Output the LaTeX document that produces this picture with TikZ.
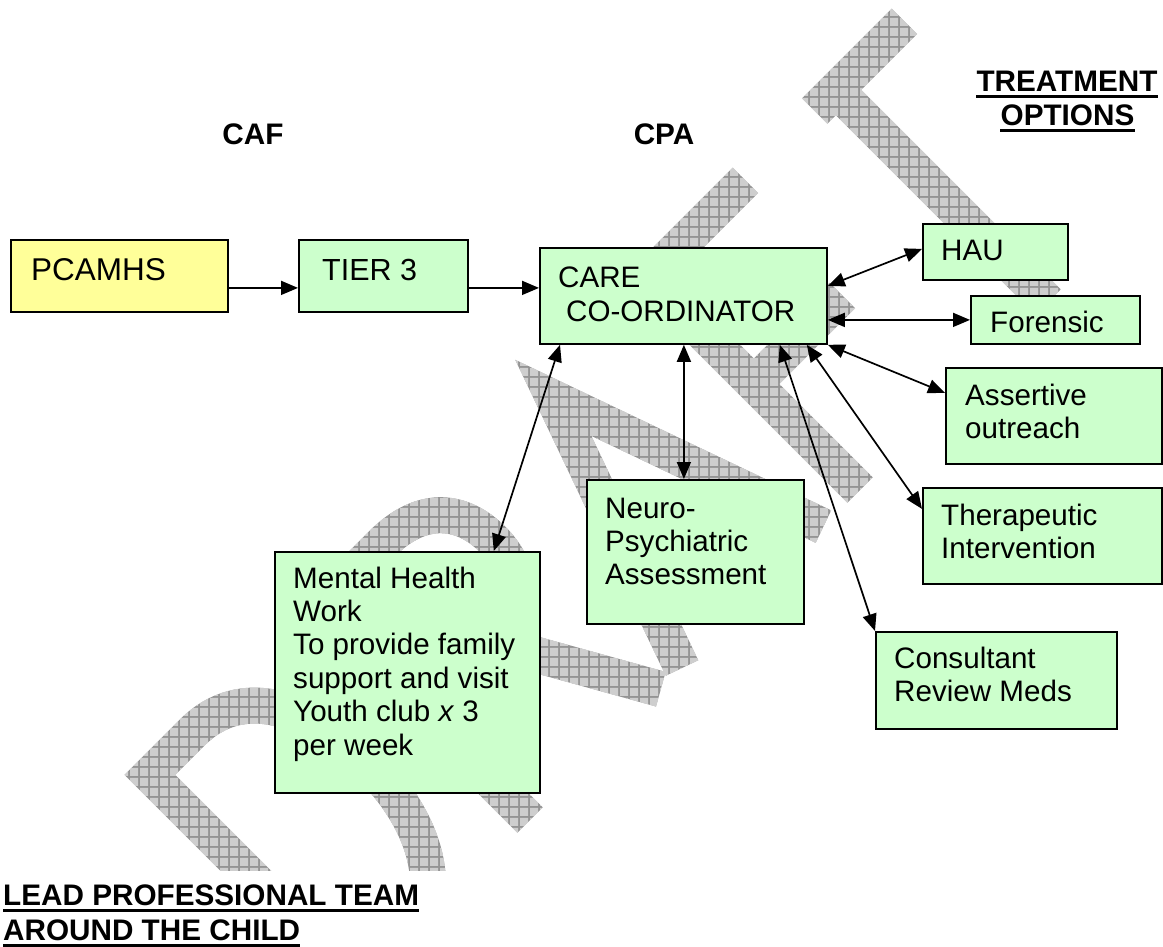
\documentclass[tikz,border=0pt]{standalone}
\usepackage{fontspec}
\setmainfont{Liberation Sans}
\usetikzlibrary{arrows.meta,patterns}
\definecolor{boxgreen}{HTML}{CCFFCC}
\definecolor{boxyellow}{HTML}{FFFF99}
\definecolor{wmdark}{RGB}{148,148,148}
\definecolor{wmlight}{RGB}{206,206,206}
\pgfdeclarepatternformonly{wmcells}{\pgfpointorigin}{\pgfqpoint{10pt}{10pt}}{\pgfqpoint{10pt}{10pt}}{\pgfpathrectangle{\pgfqpoint{1.1pt}{1.1pt}}{\pgfqpoint{8.9pt}{8.9pt}}\pgfusepath{fill}}
\newcommand{\mlines}[2]{\parbox[t]{400pt}{\raggedright\fontsize{29.6}{#1}\selectfont #2}}
\begin{document}
\begin{tikzpicture}[x=1pt,y=-1pt,
  box/.style={draw=black,line width=1.8pt,inner sep=0pt,anchor=north west,fill=boxgreen},
  tx/.style={inner sep=0pt,anchor=base west,font=\fontsize{29.6}{33.4}\selectfont},
  hd/.style={inner sep=0pt,anchor=base,font=\fontsize{29.7}{34}\selectfont\bfseries},
  ul/.style={line width=3pt},
  wm/.style={draw=wmdark,line width=36pt,line join=miter},
  arr/.style={line width=1.7pt,-{Triangle[length=17pt,width=14pt]}},
  darr/.style={line width=1.7pt,{Triangle[length=17pt,width=14pt]}-{Triangle[length=17pt,width=14pt]}}]
\useasboundingbox (0,0) rectangle (1163,947);
\fill[white] (0,0) rectangle (1163,947);
% watermark
\begin{scope}
\clip (0,0) rectangle (1163,870);
\begin{scope}[shift={(362,987)},rotate=45,x=1pt,y=1pt]
\draw[wm] (0,0) -- (0,300) -- (60,300) .. controls (130,300) and (162,235) .. (162,150) .. controls (162,70) and (125,0) .. (55,0) -- cycle;
\end{scope}
\begin{scope}[shift={(530,820)},rotate=45,x=1pt,y=1pt]
\draw[wm] (0,0) -- (0,300) -- (90,300) .. controls (150,300) and (172,265) .. (172,225) .. controls (172,180) and (145,150) .. (90,150) -- (0,150);
\draw[wm] (100,150) -- (185,0);
\end{scope}
\begin{scope}[shift={(682,668)},rotate=45,x=1pt,y=1pt]
\draw[wm] (0,0) -- (100,282) -- (200,0);
\draw[wm] (33,95) -- (167,95);
\end{scope}
\begin{scope}[shift={(860,490)},rotate=45,x=1pt,y=1pt]
\draw[wm] (0,0) -- (0,300) -- (138,300);
\draw[wm] (0,150) -- (125,150);
\end{scope}
\begin{scope}[shift={(1048,302)},rotate=45,x=1pt,y=1pt]
\draw[wm] (0,0) -- (0,300);
\draw[wm] (-30,300) -- (97,300);
\end{scope}
\fill[pattern=wmcells,pattern color=wmlight,blend mode=lighten] (0,0) rectangle (1163,870);
\end{scope}
% boxes
\node[box,fill=boxyellow,minimum width=217pt,minimum height=72pt] (pcamhs) at (10,239) {};
\node[box,minimum width=169pt,minimum height=72pt] (tier) at (298,239) {};
\node[box,minimum width=287pt,minimum height=96pt] (care) at (539,247) {};
\node[box,minimum width=145pt,minimum height=56pt] (hau) at (922,223) {};
\node[box,minimum width=169pt,minimum height=48pt] (forensic) at (970,295) {};
\node[box,minimum width=216pt,minimum height=96pt] (assertive) at (945,367) {};
\node[box,minimum width=239pt,minimum height=96pt] (therapeutic) at (922,487) {};
\node[box,minimum width=217pt,minimum height=144pt] (neuro) at (586,479) {};
\node[box,minimum width=241pt,minimum height=97pt] (consultant) at (875,631) {};
\node[box,minimum width=265pt,minimum height=241pt] (mental) at (274,551) {};
% box texts
\node[tx,font=\fontsize{31.5}{36}\selectfont] (tpcamhs) at (31,280) {PCAMHS};
\node[tx,font=\fontsize{30.5}{36}\selectfont] (ttier) at (322,280) {TIER 3};
\node[tx] (tcare) at (558,287) {\mlines{35}{CARE\\\hspace*{8pt}CO-ORDINATOR}};
\node[tx] (thau) at (941,260) {HAU};
\node[tx] (tforensic) at (990,332) {Forensic};
\node[tx] (tassertive) at (965,405) {\mlines{33.4}{Assertive\\outreach}};
\node[tx] (ttherapeutic) at (941,525) {\mlines{33.4}{Therapeutic\\Intervention}};
\node[tx] (tneuro) at (605,518) {\mlines{33.4}{Neuro-\\Psychiatric\\Assessment}};
\node[tx] (tconsultant) at (894,668) {\mlines{33.8}{Consultant\\Review Meds}};
\node[tx] (tmental) at (293,588) {\mlines{33.4}{Mental Health\\Work\\To provide family\\support and visit\\Youth club \textit{x} 3\\per week}};
% headings
\node[hd] (tcaf) at (253,145) {CAF};
\node[hd] (tcpa) at (664,145) {CPA};
\node[hd] (ttreat) at (1067,92) {TREATMENT};
\node[hd] (topt) at (1067.5,126) {OPTIONS};
\node[hd,anchor=base west] (tlead) at (3,905) {LEAD PROFESSIONAL TEAM};
\node[hd,anchor=base west] (taround) at (3,940) {AROUND THE CHILD};
\draw[ul] ([yshift=-4.5pt]ttreat.base west) -- ([yshift=-4.5pt]ttreat.base east);
\draw[ul] ([yshift=-4.5pt]topt.base west) -- ([yshift=-4.5pt]topt.base east);
\draw[ul] ([yshift=-5.5pt]tlead.base west) -- ([yshift=-5.5pt]tlead.base east);
\draw[ul] ([yshift=-5.5pt]taround.base west) -- ([yshift=-5.5pt]taround.base east);
% connectors
\draw[arr] ([yshift=-12pt]pcamhs.east) -- ([yshift=-12pt]tier.west);
\draw[arr] ([yshift=-12pt]tier.east) -- ([yshift=8pt]care.west);
\draw[darr] ([yshift=10pt]care.east) -- ([yshift=3pt]hau.west);
\draw[darr] ([yshift=-24pt]care.east) -- (forensic.west);
\draw[darr] (care.south east) -- ([yshift=23pt]assertive.west);
\draw[darr] ([xshift=-21pt]care.south east) -- ([yshift=27pt]therapeutic.west);
\draw[darr] ([xshift=-48pt]care.south east) -- (consultant.north west);
\draw[darr] ([xshift=0.5pt]care.south) -- ([xshift=0.5pt]care.south |- neuro.north);
\draw[darr] ([xshift=21pt]care.south west) -- ([xshift=-47pt]mental.north east);
\end{tikzpicture}
\end{document}
